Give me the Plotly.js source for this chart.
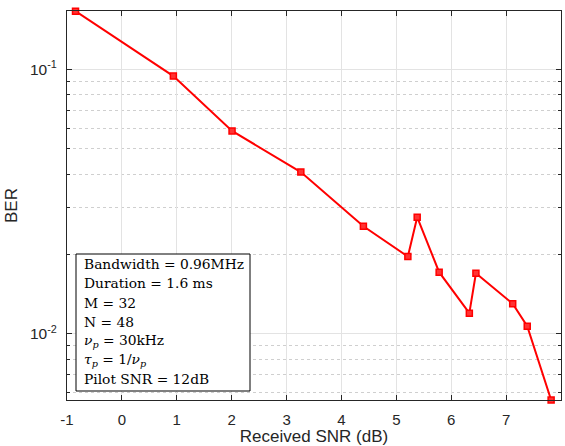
<!DOCTYPE html>
<html>
<head>
<meta charset="utf-8">
<script src="https://cdn.plot.ly/plotly-3.0.1.min.js"></script>
<style>html,body{margin:0;padding:0;background:#fff}#chart{width:565px;height:446px}</style>
</head>
<body>
<div id="chart"></div>
<script>
const snr = [-0.845, 0.938, 2.007, 3.26, 4.40, 5.21, 5.38, 5.78, 6.33, 6.45, 7.12, 7.385, 7.82];
const ber = [0.166, 0.0943, 0.0585, 0.0409, 0.0255, 0.0196, 0.0276, 0.0171, 0.01197, 0.01694, 0.0130, 0.01069, 0.00562];
const xTicks = [-1, 0, 1, 2, 3, 4, 5, 6, 7, 8];
const xTickText = ['-1', '0', '1', '2', '3', '4', '5', '6', '7', '8'];
const yTicks = [0.01, 0.1];
const yTickText = ['10<sup>-2</sup>', '10<sup>-1</sup>'];
const yMinorTicks = [0.006, 0.007, 0.008, 0.009, 0.02, 0.03, 0.04, 0.05, 0.06, 0.07, 0.08, 0.09];
const infoLines = [
  'Bandwidth = 0.96MHz',
  'Duration = 1.6 ms',
  'M = 32',
  'N = 48',
  '<i>ν</i><sub><i>p</i></sub> = 30kHz',
  '<i>τ</i><sub><i>p</i></sub> = 1/<i>ν</i><sub><i>p</i></sub>',
  'Pilot SNR = 12dB'
];

const trace = {
  x: snr, y: ber, type: 'scatter', mode: 'lines+markers',
  line: {color: '#ff0000', width: 2},
  marker: {symbol: 'square', size: 6, color: '#ff3333', line: {color: '#ff0000', width: 1.5}},
  cliponaxis: false, showlegend: false
};

// plot area in pixels (for placing the info box)
const W = 565, H = 446, mL = 67, mR = 4, mT = 11, mB = 46;
const pw = W - mL - mR, ph = H - mT - mB;
const px = p => (p - mL) / pw;
const py = p => (H - mB - p) / ph;

const axisCol = '#262626';
const boxLeft = 76, boxRight = 250, boxTop = 254, boxBottom = 391;
const lineCenters = [264, 283.3, 302.5, 321.7, 341, 360.2, 379.3];

const annotations = infoLines.map((t, i) => ({
  xref: 'paper', yref: 'paper', x: px(81.5), y: py(lineCenters[i]), xanchor: 'left', yanchor: 'middle',
  text: t, align: 'left', showarrow: false,
  font: {family: 'DejaVu Serif, Liberation Serif, serif', size: 13.8, color: '#000'}
}));

const layout = {
  width: W, height: H,
  margin: {l: mL, r: mR, t: mT, b: mB},
  paper_bgcolor: '#fff', plot_bgcolor: '#fff',
  font: {family: 'Liberation Sans, Arial, sans-serif', size: 14, color: axisCol},
  xaxis: {
    range: [-1, 8], tickvals: xTicks, ticktext: xTickText, ticks: 'inside', ticklen: 5, tickcolor: axisCol,
    showline: true, linecolor: axisCol, linewidth: 1, mirror: 'ticks',
    showgrid: true, gridcolor: '#e3e3e3', gridwidth: 1, zeroline: false,
    tickfont: {size: 15, color: axisCol}, ticklabelstandoff: 6,
    title: {text: 'Received SNR (dB)', font: {size: 17, color: axisCol}, standoff: 3}
  },
  yaxis: {
    type: 'log', range: [Math.log10(0.00562), Math.log10(0.1662)],
    tickvals: yTicks, ticktext: yTickText, ticks: 'inside', ticklen: 5, tickcolor: axisCol,
    showline: true, linecolor: axisCol, linewidth: 1, mirror: 'ticks',
    showgrid: true, gridcolor: '#e3e3e3', gridwidth: 1, zeroline: false,
    tickfont: {size: 15.5, color: axisCol}, ticklabelstandoff: 6,
    minor: {tickmode: 'array', tickvals: yMinorTicks, ticks: 'inside', ticklen: 3, tickcolor: axisCol,
            showgrid: true, gridcolor: '#cfcfcf', griddash: 'dot', gridwidth: 1},
    title: {text: 'BER', font: {size: 17, color: axisCol}, standoff: 8}
  },
  shapes: [{
    type: 'rect', xref: 'paper', yref: 'paper',
    x0: px(boxLeft), x1: px(boxRight), y0: py(boxBottom), y1: py(boxTop),
    fillcolor: '#fff', line: {color: '#000', width: 1}, layer: 'above'
  }],
  annotations: annotations
};

Plotly.newPlot('chart', [trace], layout, {displayModeBar: false, staticPlot: true});
</script>
</body>
</html>
